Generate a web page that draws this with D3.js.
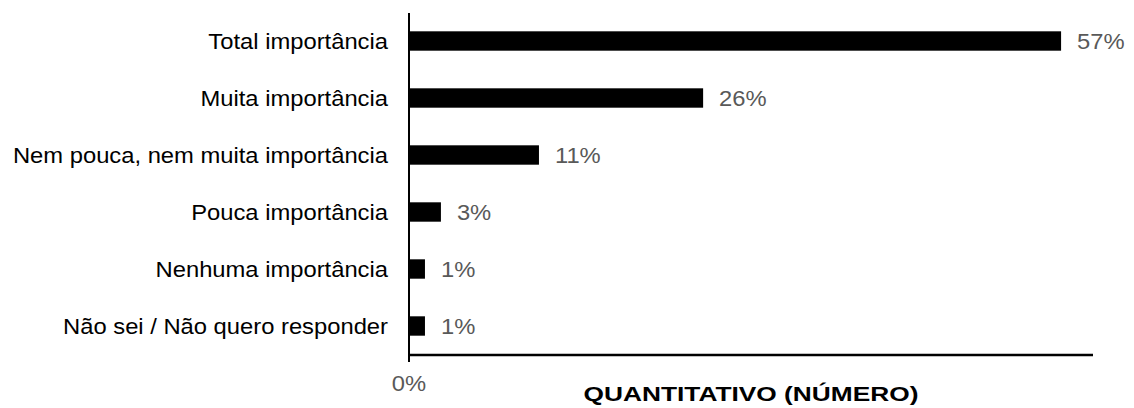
<!DOCTYPE html>
<html>
<head>
<meta charset="utf-8">
<script src="https://cdn.jsdelivr.net/npm/d3@7"></script>
<style>
  html, body { margin: 0; padding: 0; background: #fff; }
  svg { display: block; font-family: "Liberation Sans", Arial, sans-serif; }
</style>
</head>
<body>
<div id="chart"></div>
<script>
(function (d3) {
  'use strict';

  // data (labels show rounded percent)
  const categories = ['Total importância', 'Muita importância',
                      'Nem pouca, nem muita importância', 'Pouca importância',
                      'Nenhuma importância', 'Não sei / Não quero responder'];
  const values = [57.2, 25.8, 11.4, 2.8, 1.4, 1.4];
  const xTicks = [0];
  const axisTitle = 'QUANTITATIVO (NÚMERO)';

  var width = 1134,
      height = 408,
      stretch = 1.08;   // the original is a bit wider than plain Arial

  var svg = d3.select('#chart').append('svg')
      .attr('width', width)
      .attr('height', height);

  var x = d3.scaleLinear().domain([0, 60]).range([409, 1093]);
  var y = d3.scaleBand().domain(categories)
      .range([12.5, 354.5])
      .paddingInner(0.66)
      .paddingOuter(0.33);

  var data = categories.map(function (c, i) { return { cat: c, val: values[i] }; });

  // bars
  svg.selectAll('rect.bar').data(data).enter()
    .append('rect')
      .attr('class', 'bar')
      .attr('x', x(0))
      .attr('y', function (d) { return y(d.cat); })
      .attr('width', function (d) { return x(d.val) - x(0); })
      .attr('height', y.bandwidth())
      .attr('fill', '#000');

  // axis lines
  svg.append('line')
      .attr('x1', x(0)).attr('x2', x(0))
      .attr('y1', 13).attr('y2', 362)
      .attr('stroke', '#000').attr('stroke-width', 2);
  svg.append('line')
      .attr('x1', x(0) - 1).attr('x2', x.range()[1])
      .attr('y1', 355).attr('y2', 355)
      .attr('stroke', '#000').attr('stroke-width', 2.5);

  // category labels
  svg.selectAll('text.cat').data(data).enter()
    .append('text')
      .attr('class', 'cat stretch')
      .attr('x', x(0) - 21)
      .attr('y', function (d) { return y(d.cat) + y.bandwidth() / 2; })
      .attr('dy', '0.35em')
      .attr('text-anchor', 'end')
      .attr('font-size', 22)
      .attr('fill', '#000')
      .text(function (d) { return d.cat; });

  // value labels
  svg.selectAll('text.val').data(data).enter()
    .append('text')
      .attr('class', 'val stretch')
      .attr('x', function (d) { return x(d.val) + 16; })
      .attr('y', function (d) { return y(d.cat) + y.bandwidth() / 2; })
      .attr('dy', '0.35em')
      .attr('font-size', 22)
      .attr('fill', '#595959')
      .text(function (d) { return d3.format('.0f')(d.val) + '%'; });

  // x tick labels
  svg.selectAll('text.tick').data(xTicks).enter()
    .append('text')
      .attr('class', 'tick stretch')
      .attr('x', function (d) { return x(d); })
      .attr('y', 391)
      .attr('text-anchor', 'middle')
      .attr('font-size', 22)
      .attr('fill', '#595959')
      .text(function (d) { return d + '%'; });

  // axis title
  var title = svg.append('text')
      .attr('x', (x.range()[0] + x.range()[1]) / 2)
      .attr('y', 401)
      .attr('text-anchor', 'middle')
      .attr('font-size', 21)
      .attr('font-weight', 'bold')
      .attr('fill', '#000')
      .text(axisTitle);

  svg.selectAll('text.stretch').each(function () {
    var w = this.getComputedTextLength();
    d3.select(this).attr('textLength', w * stretch).attr('lengthAdjust', 'spacingAndGlyphs');
  });
  title.attr('textLength', 335).attr('lengthAdjust', 'spacingAndGlyphs');
})(d3);
</script>
</body>
</html>
